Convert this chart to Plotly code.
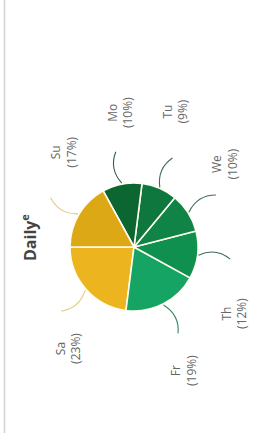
import math
import plotly.graph_objects as go

# ---- data ----
days = ["Sa", "Fr", "Th", "We", "Tu", "Mo", "Su"]
shares = [23, 19, 12, 10, 9, 10, 17]
title_text = "Daily"
title_sup = "e"

# ---- style ----
W, H = 253, 433
colors = ["#ECB520", "#16A465", "#10904F", "#0F8446", "#0E773D", "#0B6632", "#DDA815"]
line_colors = ["#E8CF8A", "#2E8A60", "#3D6E55", "#3D6E55", "#3D6E55", "#3D5E4C", "#E0C37A"]
# small label nudges (px) to mimic the original label-collision layout
label_dx = [-2, -3, -5, 0, -6, -5, 4]
label_dy = [0, 0, 17, 8, -10, 0, -6]
cx, cy, R = 134, 247, 64  # pixel geometry of the pie
text_color = "#666666"
font_family = "Open Sans, DejaVu Sans, sans-serif"


def px(x):
    return x / W


def py(y):
    return 1 - y / H


total = sum(shares)
# plotly (counterclockwise): first slice spans clockwise from `rotation`;
# we want it to start at 9 o'clock and run counterclockwise (downwards)
rot = -90 - shares[0] / total * 360.0

fig = go.Figure()
fig.add_trace(go.Pie(
    labels=days,
    values=shares,
    sort=False,
    direction="counterclockwise",
    rotation=rot,
    marker=dict(colors=colors, line=dict(color="#FFFDF0", width=1.6)),
    textinfo="none",
    hoverinfo="label+percent",
    showlegend=False,
    domain=dict(x=[px(cx - R), px(cx + R)], y=[py(cy + R), py(cy - R)]),
))

shapes = []
annotations = []
start = 180.0
for i, (d, v) in enumerate(zip(days, shares)):
    span = v / total * 360.0
    mid = math.radians(start + span / 2)
    start += span

    def pt(r, a):
        return cx + r * math.cos(a), cy - r * math.sin(a)

    x0, y0 = pt(R + 1, mid)
    xc, yc = pt(R + 18, mid + math.radians(7))
    x1, y1 = pt(R + 33, mid)
    shapes.append(dict(
        type="path", xref="paper", yref="paper",
        path=f"M {px(x0)} {py(y0)} Q {px(xc)} {py(yc)} {px(x1)} {py(y1)}",
        line=dict(color=line_colors[i], width=1.1),
    ))
    pct = round(v / total * 100)
    upper = math.sin(mid) > 0
    ly = (y1 - 22 if upper else y1 + 20) + label_dy[i]
    annotations.append(dict(
        text=f"{d}<br>({pct}%)",
        xref="paper", yref="paper",
        x=px(x1 + 9 + label_dx[i]), y=py(ly),
        xanchor="center", yanchor="bottom" if upper else "top",
        textangle=-90, showarrow=False,
        font=dict(size=12, color=text_color, family=font_family),
    ))

annotations.append(dict(
    text=f"<b>{title_text}<sup>{title_sup}</sup></b>",
    xref="paper", yref="paper", x=px(29), y=py(238),
    xanchor="center", yanchor="middle", textangle=-90, showarrow=False,
    font=dict(size=16, color="#444444", family=font_family),
))

shapes.append(dict(type="line", xref="paper", yref="paper",
                   x0=px(4.5), x1=px(4.5), y0=0, y1=1,
                   line=dict(color="#D3D3D3", width=1.5)))

fig.update_layout(
    width=W, height=H,
    margin=dict(l=0, r=0, t=0, b=0),
    paper_bgcolor="white", plot_bgcolor="white",
    shapes=shapes, annotations=annotations,
)
fig.write_html(
    "out.html",
    config={"displayModeBar": False},
    post_script="document.body.style.margin='0';document.body.style.overflow='hidden';",
)
